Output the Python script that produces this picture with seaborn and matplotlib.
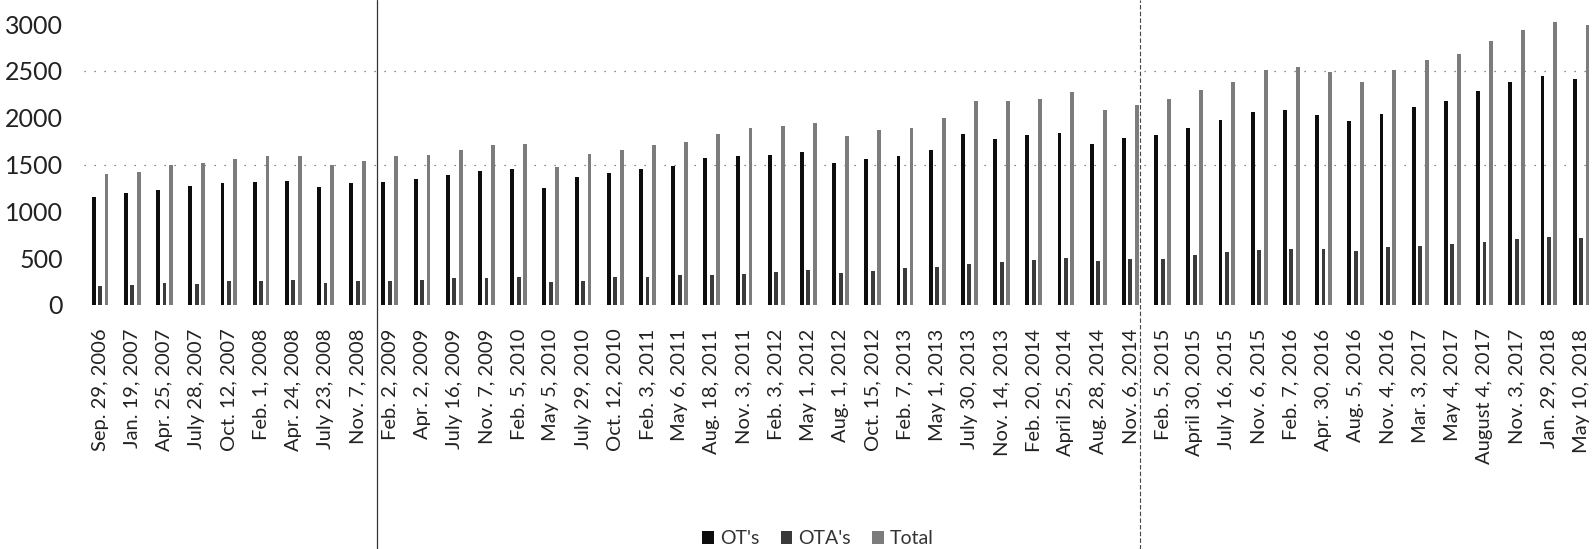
import numpy as np
import pandas as pd
import matplotlib
matplotlib.use("Agg")
import matplotlib.pyplot as plt
import seaborn as sns
from matplotlib.lines import Line2D

dates = [
    "Sep. 29, 2006", "Jan. 19, 2007", "Apr. 25, 2007", "July 28, 2007", "Oct. 12, 2007",
    "Feb. 1, 2008", "Apr. 24, 2008", "July 23, 2008", "Nov. 7, 2008", "Feb. 2, 2009",
    "Apr. 2, 2009", "July 16, 2009", "Nov. 7, 2009", "Feb. 5, 2010", "May 5, 2010",
    "July 29, 2010", "Oct. 12, 2010", "Feb. 3, 2011", "May 6, 2011", "Aug. 18, 2011",
    "Nov. 3, 2011", "Feb. 3, 2012", "May 1, 2012", "Aug. 1, 2012", "Oct. 15, 2012",
    "Feb. 7, 2013", "May 1, 2013", "July 30, 2013", "Nov. 14, 2013", "Feb. 20, 2014",
    "April 25, 2014", "Aug. 28, 2014", "Nov. 6, 2014", "Feb. 5, 2015", "April 30, 2015",
    "July 16, 2015", "Nov. 6, 2015", "Feb. 7, 2016", "Apr. 30, 2016", "Aug. 5, 2016",
    "Nov. 4, 2016", "Mar. 3, 2017", "May 4, 2017", "August 4, 2017", "Nov. 3, 2017",
    "Jan. 29, 2018", "May 10, 2018",
]

ot = [1150, 1195, 1225, 1270, 1300, 1315, 1325, 1255, 1300, 1315,
      1345, 1390, 1430, 1450, 1245, 1365, 1405, 1450, 1485, 1570,
      1590, 1600, 1635, 1520, 1555, 1590, 1660, 1825, 1775, 1815,
      1835, 1720, 1785, 1820, 1895, 1970, 2065, 2085, 2030, 1960,
      2040, 2110, 2180, 2280, 2385, 2440, 2415]

ota = [200, 210, 230, 220, 255, 255, 270, 235, 255, 255,
       265, 290, 285, 300, 245, 255, 300, 300, 320, 320,
       335, 355, 375, 345, 365, 390, 405, 440, 460, 485,
       505, 475, 495, 495, 530, 565, 590, 600, 600, 575,
       620, 635, 655, 670, 705, 725, 720]

total = [1395, 1420, 1490, 1520, 1555, 1590, 1590, 1500, 1540, 1590,
         1600, 1655, 1705, 1720, 1475, 1610, 1655, 1705, 1740, 1825,
         1885, 1910, 1945, 1800, 1870, 1895, 1995, 2175, 2180, 2200,
         2270, 2085, 2140, 2200, 2300, 2385, 2510, 2545, 2490, 2385,
         2510, 2615, 2685, 2815, 2935, 3020, 2985]

series_names = ["OT's", "OTA's", "Total"]
y_ticks = [0, 500, 1000, 1500, 2000, 2500, 3000]

sns.set_theme(style="white")
plt.rcParams["font.family"] = ["Lato", "DejaVu Sans"]

W, H = 1596, 549
fig = plt.figure(figsize=(W / 100, H / 100), dpi=100)
ax = fig.add_axes([84 / W, 1 - 305 / H, (1594 - 84) / W, (305 - 24) / H])

df = pd.DataFrame({
    "date": dates * 3,
    "value": ot + ota + total,
    "series": [s for s in series_names for _ in dates],
})

sns.barplot(data=df, x="date", y="value", hue="series", order=dates,
            hue_order=series_names,
            palette=["#0d0d0d", "#3a3a3a", "#7c7c7c"],
            width=0.6, gap=0.4, saturation=1, errorbar=None,
            linewidth=0, ax=ax)

for p in ax.patches:
    p.set_clip_on(False)

ax.set_ylim(0, 3000)
ax.set_xlim(-0.5, 46.4)
ax.set_yticks(y_ticks)
ax.set_yticklabels([str(v) for v in y_ticks])
ax.tick_params(axis="y", labelsize=18, pad=15, length=0, labelcolor="#222222")
ax.tick_params(axis="x", labelrotation=90, labelsize=14.5, pad=17, length=0,
               labelcolor="#222222")
ax.set_xlabel("")
ax.set_ylabel("")
for s in ax.spines.values():
    s.set_visible(False)
ax.grid(False)
for yv in (1500, 2500):
    ax.axhline(yv, color="#666666", lw=0.9, ls=(0, (1, 7)), zorder=0)

handles, labels = ax.get_legend_handles_labels()
if ax.get_legend() is not None:
    ax.get_legend().remove()
fig.legend(handles, labels, loc="center", bbox_to_anchor=(818 / W, 1 - 539 / H),
           ncol=3, frameon=False, fontsize=14, handlelength=0.6,
           handleheight=0.6, handletextpad=0.3, columnspacing=1.1,
           labelcolor="#333333", borderpad=0.1)

fig.add_artist(Line2D([377 / W] * 2, [0, 1], transform=fig.transFigure,
                      color="#333333", lw=0.9))
fig.add_artist(Line2D([1140 / W] * 2, [0, 1], transform=fig.transFigure,
                      color="#444444", lw=0.8, ls=(0, (4, 2))))

fig.savefig("out.png", dpi=100)
